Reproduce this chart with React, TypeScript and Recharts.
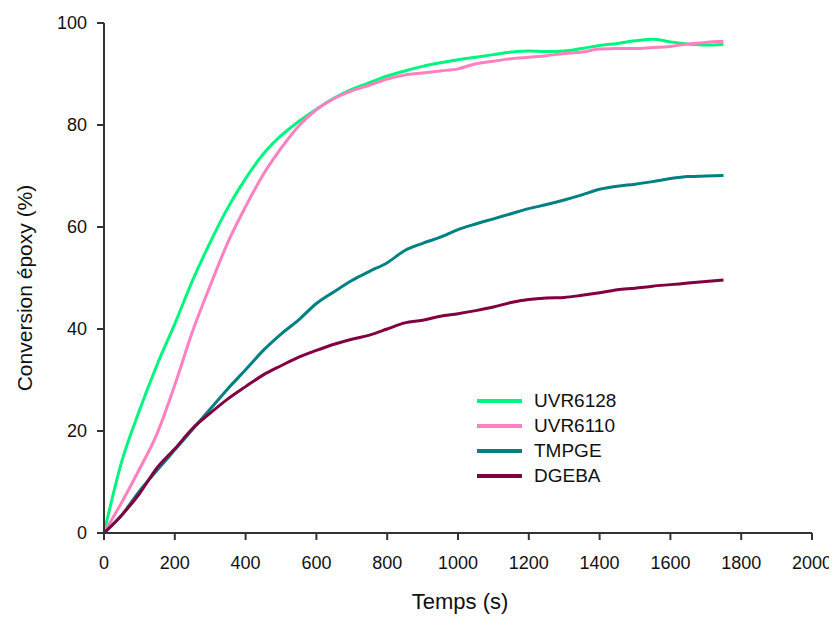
import React from "react";
import { LineChart, Line, XAxis, YAxis, Legend, Label } from "recharts";

const times = [0, 50, 100, 150, 200, 250, 300, 350, 400, 450, 500, 550, 600, 650, 700, 750, 800, 850, 900, 950, 1000, 1050, 1100, 1150, 1200, 1250, 1300, 1350, 1400, 1450, 1500, 1550, 1600, 1650, 1700, 1750];
const uvr6128 = [0, 14, 24, 33, 41, 49.5, 57, 63.8, 69.5, 74.3, 77.9, 80.7, 83.1, 85.3, 87, 88.3, 89.6, 90.6, 91.5, 92.2, 92.8, 93.3, 93.8, 94.3, 94.5, 94.4, 94.5, 95, 95.6, 96, 96.5, 96.8, 96.3, 95.9, 95.7, 95.8];
const uvr6110 = [0, 6, 12.5, 19.5, 29, 39.5, 48.5, 57, 64, 70.3, 75.4, 79.8, 83, 85.2, 86.7, 87.8, 89, 89.8, 90.2, 90.6, 91, 92, 92.5, 93, 93.3, 93.6, 94, 94.3, 94.9, 95, 95, 95.2, 95.4, 95.9, 96.2, 96.4];
const tmpge = [0, 3.5, 8.2, 12.3, 16.3, 20.3, 24.3, 28.3, 32, 35.8, 39, 41.8, 45, 47.3, 49.5, 51.3, 53, 55.4, 56.8, 58, 59.5, 60.6, 61.6, 62.6, 63.6, 64.4, 65.3, 66.3, 67.4, 68, 68.4, 68.9, 69.5, 69.9, 70, 70.1];
const dgeba = [0, 3.5, 7.7, 12.8, 16.5, 20.5, 23.5, 26.3, 28.7, 31, 32.8, 34.5, 35.8, 37, 38, 38.8, 40, 41.2, 41.7, 42.5, 43, 43.6, 44.3, 45.2, 45.8, 46.1, 46.2, 46.6, 47.1, 47.7, 48, 48.4, 48.7, 49, 49.3, 49.6];

const xTicks = [0, 200, 400, 600, 800, 1000, 1200, 1400, 1600, 1800, 2000];
const yTicks = [0, 20, 40, 60, 80, 100];

const seriesNames = ["UVR6128", "UVR6110", "TMPGE", "DGEBA"];
const seriesColors = ["#00F57F", "#FF80C0", "#008080", "#800040"];

const data = times.map((t, i) => ({
  t,
  UVR6128: uvr6128[i],
  UVR6110: uvr6110[i],
  TMPGE: tmpge[i],
  DGEBA: dgeba[i],
}));

const FONT = "'Liberation Sans', Arial, sans-serif";
const AXIS = "#333333";

const LegendContent = () => (
  <div style={{ fontFamily: FONT }}>
    {seriesNames.map((n, i) => (
      <div key={n} style={{ display: "flex", alignItems: "center", height: 25 }}>
        <svg width={45} height={6} style={{ display: "block" }}>
          <line x1={0} y1={3} x2={45} y2={3} stroke={seriesColors[i]} strokeWidth={4} />
        </svg>
        <span style={{ marginLeft: 12, fontSize: 19, color: "#111", lineHeight: "25px" }}>{n}</span>
      </div>
    ))}
  </div>
);

export default function App() {
  return (
    <LineChart
      width={830}
      height={609}
      data={data}
      margin={{ top: 15, right: 26, left: 0, bottom: 54 }}
    >
      <XAxis
        dataKey="t"
        type="number"
        domain={[0, 2000]}
        ticks={xTicks}
        interval={0}
        height={30}
        tickSize={7}
        tickMargin={16}
        axisLine={{ stroke: AXIS, strokeWidth: 2 }}
        tickLine={{ stroke: AXIS, strokeWidth: 2 }}
        tick={{ fill: "#111", fontSize: 18, fontFamily: FONT }}
      >
        <Label
          content={() => (
            <text x={452} y={601} textAnchor="middle" fontSize={22} fontFamily={FONT} fill="#111">
              Temps (s)
            </text>
          )}
        />
      </XAxis>
      <YAxis
        type="number"
        domain={[0, 100]}
        ticks={yTicks}
        interval={0}
        width={96}
        tickSize={7}
        tickMargin={10}
        axisLine={{ stroke: AXIS, strokeWidth: 2 }}
        tickLine={{ stroke: AXIS, strokeWidth: 2 }}
        tick={{ fill: "#111", fontSize: 18, fontFamily: FONT }}
      >
        <Label
          content={() => (
            <text
              x={24}
              y={280}
              transform="rotate(-90 24 280)"
              textAnchor="middle"
              fontSize={21}
              fontFamily={FONT}
              fill="#111"
            >
              Conversion époxy (%)
            </text>
          )}
        />
      </YAxis>
      <Legend
        layout="vertical"
        align="center"
        verticalAlign="middle"
        content={LegendContent}
        wrapperStyle={{ position: "absolute", left: 469, top: 380, width: 200 }}
      />
      {seriesNames.map((n, i) => (
        <Line
          key={n}
          dataKey={n}
          type="monotone"
          stroke={seriesColors[i]}
          strokeWidth={3}
          dot={false}
          activeDot={false}
          isAnimationActive={false}
        />
      ))}
    </LineChart>
  );
}
